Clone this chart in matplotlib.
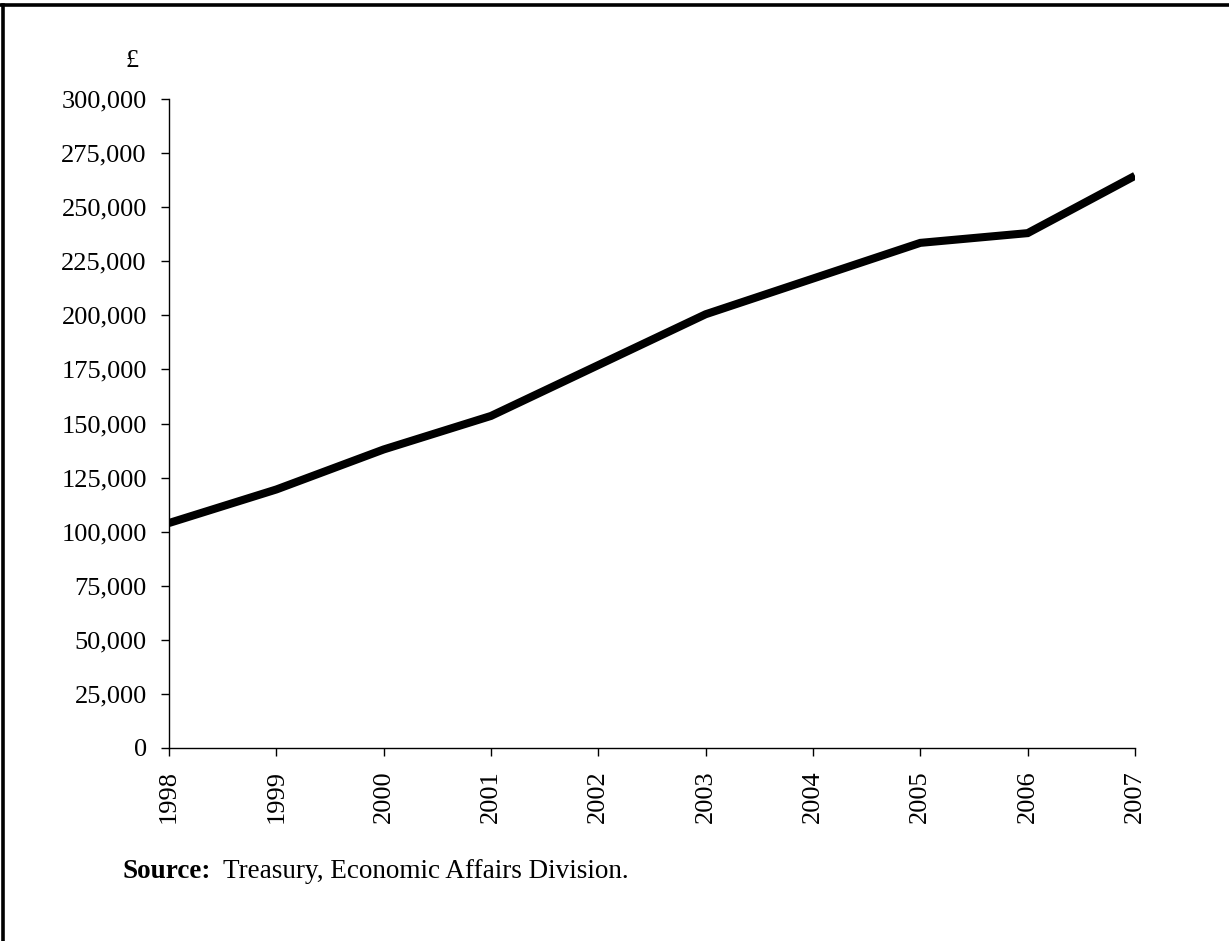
import matplotlib
matplotlib.use("Agg")
import matplotlib.pyplot as plt
from matplotlib.lines import Line2D
from matplotlib.ticker import FuncFormatter

years = [1998, 1999, 2000, 2001, 2002, 2003, 2004, 2005, 2006, 2007]
values = [104000, 119500, 138000, 153500, 177000, 200500, 217000, 233500, 238000, 264500]
yticks = list(range(0, 300001, 25000))

plt.rcParams['font.family'] = ['Liberation Serif', 'DejaVu Serif']

W, H = 1229, 941
fig = plt.figure(figsize=(W / 100, H / 100), dpi=100)
ax = fig.add_axes([169/W, 1 - 748/H, (1135-169)/W, (748-99)/H])

ax.plot(years, values, color='black', linewidth=5.8, solid_joinstyle='miter', solid_capstyle='butt')
ax.set_xlim(years[0], years[-1])
ax.set_ylim(0, 300000)
ax.set_yticks(yticks)
ax.set_xticks(years)
ax.yaxis.set_major_formatter(FuncFormatter(lambda v, p: f"{int(v):,}"))
ax.set_xticklabels([str(y) for y in years], rotation=90)

for s in ['top', 'right']:
    ax.spines[s].set_visible(False)
for s in ['left', 'bottom']:
    ax.spines[s].set_linewidth(1.0)
ax.tick_params(axis='both', direction='out', length=6, width=1.0, labelsize=19, colors='black')
ax.tick_params(axis='y', pad=10)
ax.tick_params(axis='x', pad=10)

fig.text(132/W, 1 - 61/H, '£', fontsize=19, ha='center', va='center')
fig.text(122/W, 1 - 878/H, 'Source:', fontsize=19.5, fontweight='bold', ha='left', va='baseline')
fig.text(223/W, 1 - 878/H, 'Treasury, Economic Affairs Division.', fontsize=19.5, ha='left', va='baseline')

# frame: left and top edges
fig.lines.append(Line2D([2.5/W, 2.5/W], [0, 1 - 4.5/H], transform=fig.transFigure, color='black', linewidth=2.6))
fig.lines.append(Line2D([1/W, 1], [1 - 4.5/H, 1 - 4.5/H], transform=fig.transFigure, color='black', linewidth=2.6))

fig.savefig('out.png', dpi=100)
